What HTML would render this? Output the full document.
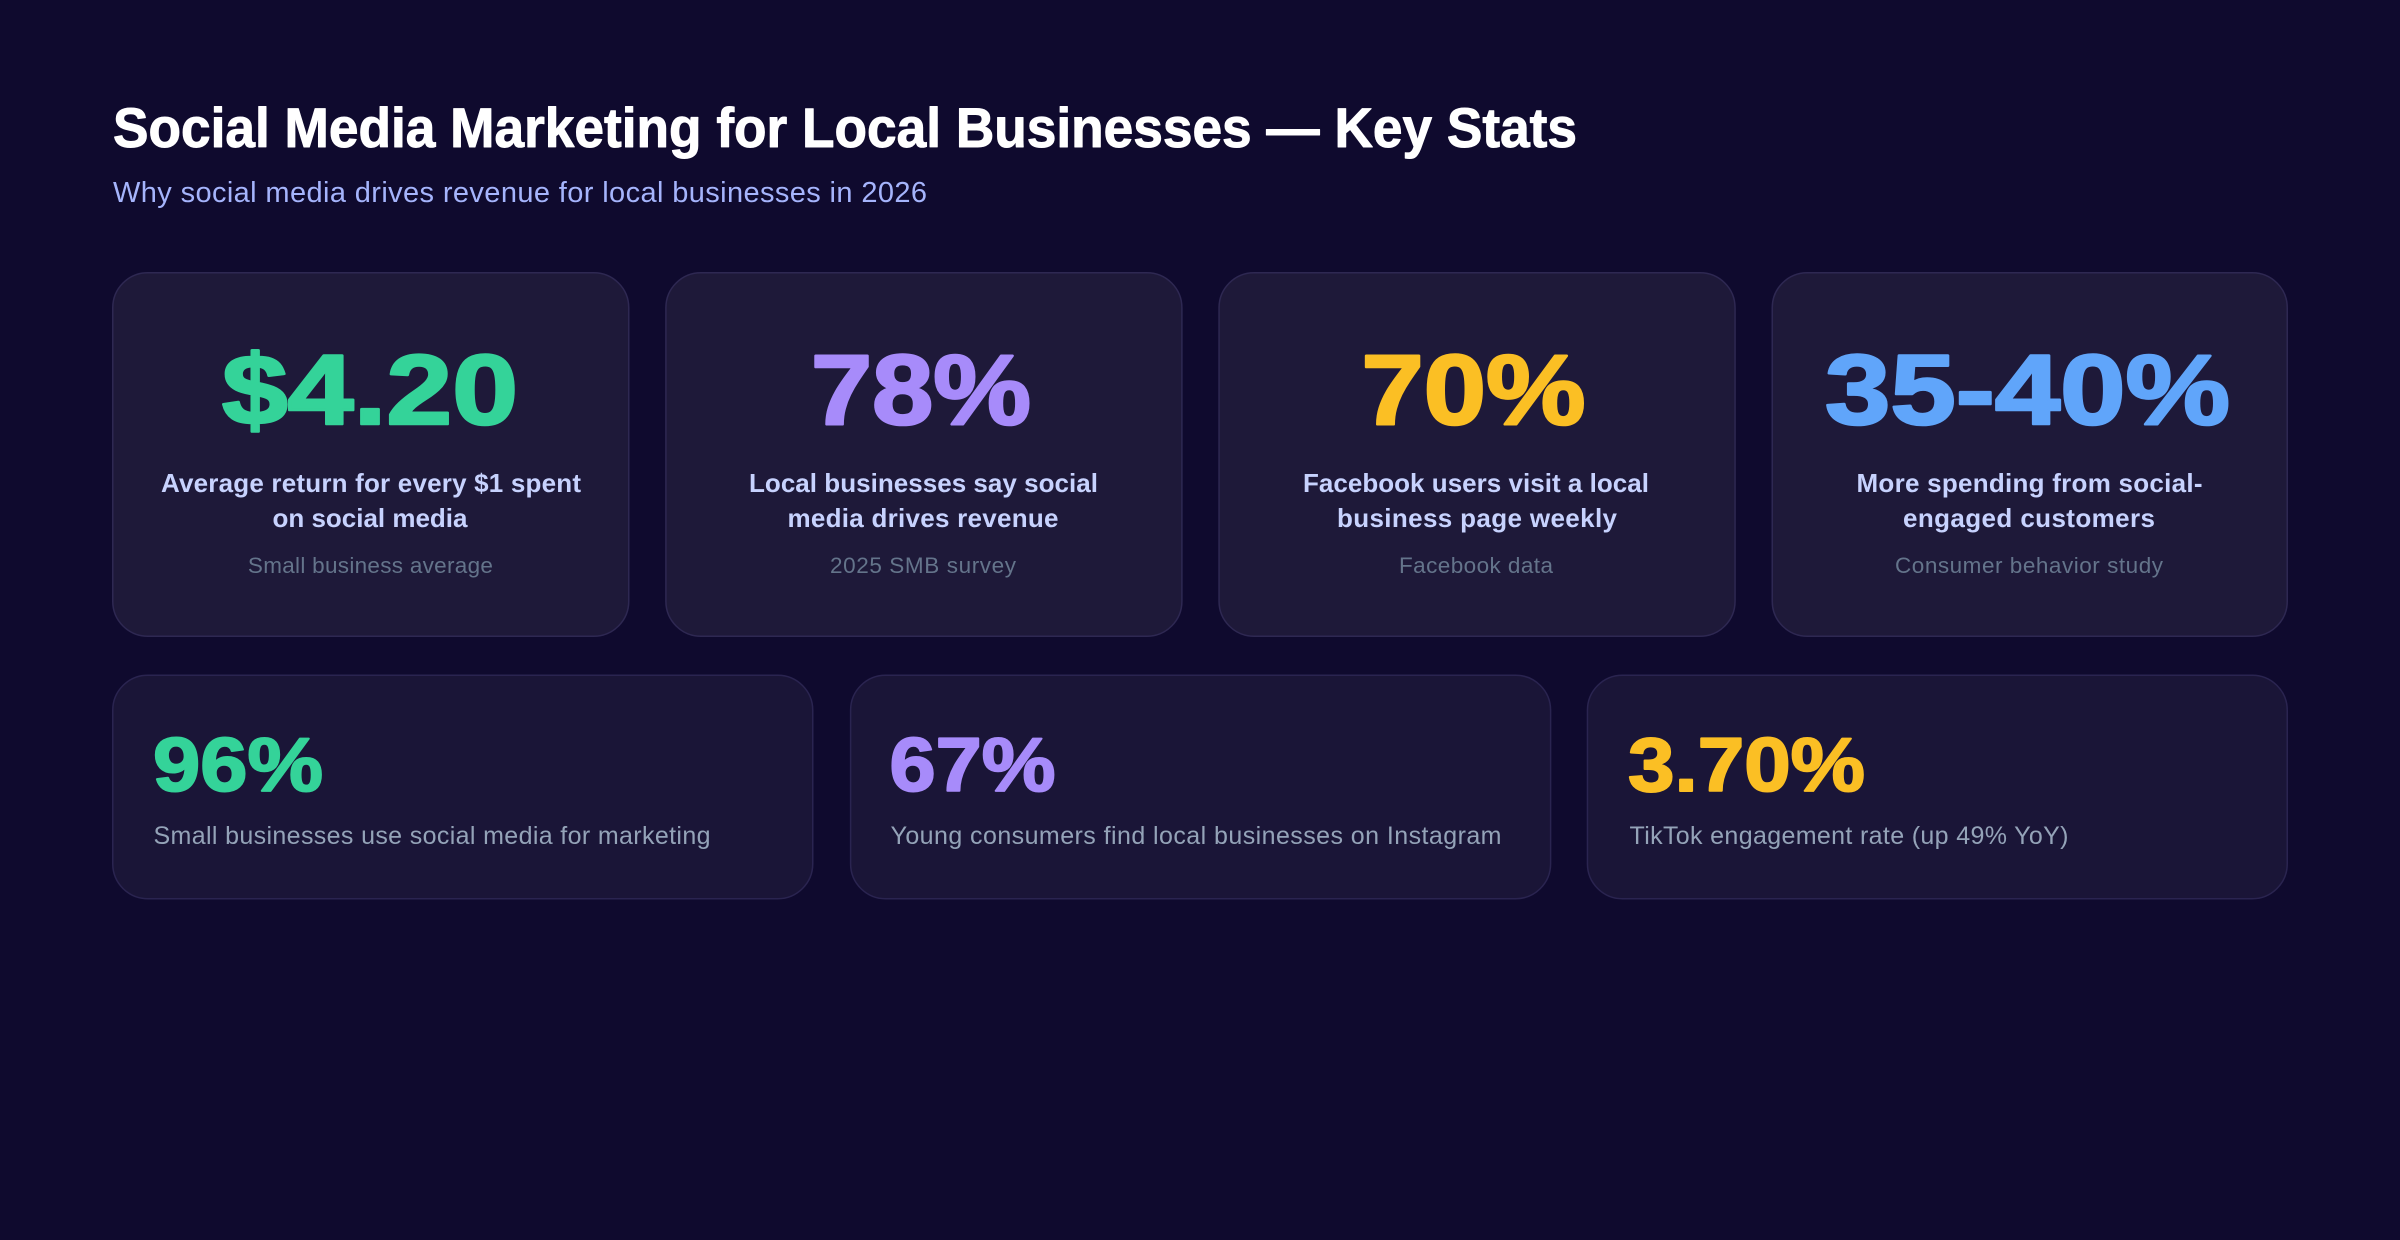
<!DOCTYPE html>
<html>
<head>
<meta charset="utf-8">
<style>
  html, body { margin: 0; padding: 0; background: #0f0a2e; }
  body { width: 2400px; height: 1240px; overflow: hidden; }
  svg { display: block; }
  text { font-family: "Liberation Sans", Arial, sans-serif; }
  .num { font-weight: 700; stroke-linejoin: round; }
  .n1 { stroke-width: 2.6; }
  .n2 { stroke-width: 2; }
  .lbl { font-weight: 700; fill: #c7d2fe; font-size: 26px; }
  .src { font-weight: 400; fill: #64748b; font-size: 22.5px; }
  .lbl2 { font-weight: 400; fill: #94a3b8; font-size: 25px; }
</style>
</head>
<body>
<svg width="2400" height="1240" viewBox="0 0 2400 1240" xmlns="http://www.w3.org/2000/svg">
  <rect x="0" y="0" width="2400" height="1240" fill="#0f0a2e"/>

  <!-- Title -->
  <text x="113" y="147" font-size="56" font-weight="700" fill="#ffffff" stroke="#ffffff" stroke-width="1" stroke-linejoin="round" textLength="1464" lengthAdjust="spacingAndGlyphs">Social Media Marketing for Local Businesses — Key Stats</text>
  <text x="113" y="202" font-size="29" font-weight="400" fill="#a5b4fc" textLength="814" lengthAdjust="spacing">Why social media drives revenue for local businesses in 2026</text>

  <!-- Row 1 cards -->
  <g fill="#1e1939" stroke="#2e2852" stroke-width="1.5">
    <rect x="112.75" y="272.75" width="516" height="363.5" rx="35" ry="35"/>
    <rect x="665.9" y="272.75" width="516" height="363.5" rx="35" ry="35"/>
    <rect x="1219.05" y="272.75" width="516" height="363.5" rx="35" ry="35"/>
    <rect x="1772.25" y="272.75" width="515" height="363.5" rx="35" ry="35"/>
  </g>

  <!-- Row 1 numbers -->
  <text class="num n1" x="370" y="424" font-size="99" fill="#34d399" stroke="#34d399" text-anchor="middle" textLength="296" lengthAdjust="spacingAndGlyphs">$4.20</text>
  <text class="num n1" x="921" y="424" font-size="99" fill="#a78bfa" stroke="#a78bfa" text-anchor="middle" textLength="220" lengthAdjust="spacingAndGlyphs">78%</text>
  <text class="num n1" x="1473.5" y="424" font-size="99" fill="#fbbf24" stroke="#fbbf24" text-anchor="middle" textLength="224" lengthAdjust="spacingAndGlyphs">70%</text>
  <text class="num n1" x="2027.5" y="424" font-size="99" fill="#60a5fa" stroke="#60a5fa" text-anchor="middle" textLength="405" lengthAdjust="spacingAndGlyphs">35-40%</text>

  <!-- Row 1 labels -->
  <text class="lbl" x="371" y="492" text-anchor="middle" textLength="420" lengthAdjust="spacing">Average return for every $1 spent</text>
  <text class="lbl" x="370" y="527" text-anchor="middle" textLength="195" lengthAdjust="spacing">on social media</text>
  <text class="src" x="370.4" y="573" text-anchor="middle" textLength="245" lengthAdjust="spacing">Small business average</text>

  <text class="lbl" x="923.5" y="492" text-anchor="middle" textLength="349" lengthAdjust="spacing">Local businesses say social</text>
  <text class="lbl" x="923" y="527" text-anchor="middle" textLength="271" lengthAdjust="spacing">media drives revenue</text>
  <text class="src" x="923" y="573" text-anchor="middle" textLength="186" lengthAdjust="spacing">2025 SMB survey</text>

  <text class="lbl" x="1476" y="492" text-anchor="middle" textLength="346" lengthAdjust="spacing">Facebook users visit a local</text>
  <text class="lbl" x="1477" y="527" text-anchor="middle" textLength="280" lengthAdjust="spacing">business page weekly</text>
  <text class="src" x="1476" y="573" text-anchor="middle" textLength="154" lengthAdjust="spacing">Facebook data</text>

  <text class="lbl" x="2029.5" y="492" text-anchor="middle" textLength="346" lengthAdjust="spacing">More spending from social-</text>
  <text class="lbl" x="2029" y="527" text-anchor="middle" textLength="252" lengthAdjust="spacing">engaged customers</text>
  <text class="src" x="2029" y="573" text-anchor="middle" textLength="268" lengthAdjust="spacing">Consumer behavior study</text>

  <!-- Row 2 cards -->
  <g fill="#1a1537" stroke="#2a2450" stroke-width="1.5">
    <rect x="112.75" y="675.25" width="700" height="223.5" rx="35" ry="35"/>
    <rect x="850.6" y="675.25" width="700" height="223.5" rx="35" ry="35"/>
    <rect x="1587.45" y="675.25" width="699.8" height="223.5" rx="35" ry="35"/>
  </g>

  <!-- Row 2 numbers -->
  <text class="num n2" x="153" y="791" font-size="76" fill="#34d399" stroke="#34d399" textLength="170" lengthAdjust="spacingAndGlyphs">96%</text>
  <text class="num n2" x="889.5" y="791" font-size="76" fill="#a78bfa" stroke="#a78bfa" textLength="166" lengthAdjust="spacingAndGlyphs">67%</text>
  <text class="num n2" x="1628" y="791" font-size="76" fill="#fbbf24" stroke="#fbbf24" textLength="237" lengthAdjust="spacingAndGlyphs">3.70%</text>

  <!-- Row 2 labels -->
  <text class="lbl2" x="153.5" y="844" textLength="557" lengthAdjust="spacing">Small businesses use social media for marketing</text>
  <text class="lbl2" x="890.5" y="844" textLength="611" lengthAdjust="spacing">Young consumers find local businesses on Instagram</text>
  <text class="lbl2" x="1629.5" y="844" textLength="439" lengthAdjust="spacing">TikTok engagement rate (up 49% YoY)</text>
</svg>
</body>
</html>
